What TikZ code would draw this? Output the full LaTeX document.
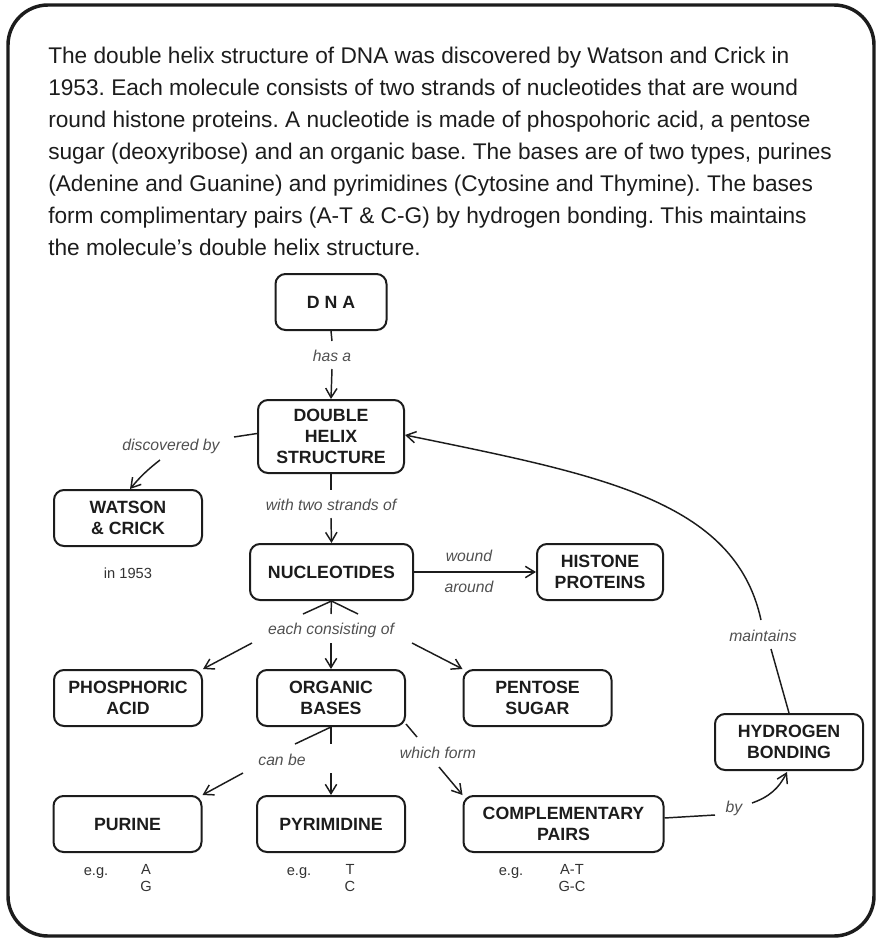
\documentclass[tikz,border=0pt]{standalone}
\usepackage{fontspec}
\setmainfont{Liberation Sans}
\usetikzlibrary{arrows.meta,calc}
\definecolor{ink}{HTML}{1C1C1C}
\definecolor{linkgray}{HTML}{505050}
\definecolor{notegray}{HTML}{333333}
\frenchspacing
\begin{document}
\begin{tikzpicture}[x=0.75pt,y=-0.75pt,
  concept/.style={draw=ink, line width=1.5pt, rounded corners=7.5pt, align=center,
    inner sep=0pt, text=ink, font=\bfseries\fontsize{13.3}{16}\selectfont,
    minimum width=111pt, minimum height=42pt},
  linkword/.style={font=\itshape\fontsize{11.8}{14}\selectfont, text=linkgray, inner sep=0pt},
  note/.style={font=\fontsize{11}{12.75}\selectfont, text=notegray, inner sep=0pt, align=center},
  conn/.style={draw=ink, line width=1.1pt},
  arr/.style={conn, -{Straight Barb[length=7pt,width=8.5pt,line width=1.1pt]}},
]
\useasboundingbox (0,0) rectangle (881,939);
% outer frame
\draw[ink, line width=2.6pt, rounded corners=30pt] (8,5) rectangle (874,936);

% introductory paragraph
\node[anchor=north west, inner sep=0pt, align=left, text=ink,
      font=\fontsize{17}{24}\selectfont] (intro) at (48,47)
 {The double helix structure of DNA was discovered by Watson and Crick in\\
  1953. Each molecule consists of two strands of nucleotides that are wound\\
  round histone proteins. A nucleotide is made of phospohoric acid, a pentose\\
  sugar (deoxyribose) and an organic base. The bases are of two types, purines\\
  (Adenine and Guanine) and pyrimidines (Cytosine and Thymine). The bases\\
  form complimentary pairs (A-T \& C-G) by hydrogen bonding. This maintains\\
  the molecule’s double helix structure.};

% concepts
\node[concept, minimum width=83.25pt] (dna) at (331,302) {D N A};
\node[concept, minimum width=109.5pt, minimum height=54.75pt] (dhs) at (331,436.5) {DOUBLE\\HELIX\\STRUCTURE};
\node[concept] (wc) at (128,518) {WATSON\\\& CRICK};
\node[concept, minimum width=122.25pt] (nuc) at (331.5,572) {NUCLEOTIDES};
\node[concept, minimum width=94.5pt] (hist) at (600,572) {HISTONE\\PROTEINS};
\node[concept] (phos) at (128,698) {PHOSPHORIC\\ACID};
\node[concept] (org) at (331,698) {ORGANIC\\BASES};
\node[concept] (pent) at (537.5,698) {PENTOSE\\SUGAR};
\node[concept] (hyd) at (789,742) {HYDROGEN\\BONDING};
\node[concept] (pur) at (127.5,824) {PURINE};
\node[concept] (pyr) at (331,824) {PYRIMIDINE};
\node[concept, minimum width=150pt] (comp) at (563.5,824) {COMPLEMENTARY\\PAIRS};

% notes under concepts
\node[note] (yr) at (128,573) {in 1953};
\node[note, anchor=base] (eg1) at (96,875) {e.g.};
\node[note, anchor=north] (ex1) at (146,864.5) {A\\G};
\node[note, anchor=base] (eg2) at (299,875) {e.g.};
\node[note, anchor=north] (ex2) at (350,864.5) {T\\C};
\node[note, anchor=base] (eg3) at (511,875) {e.g.};
\node[note, anchor=north] (ex3) at (572,864.5) {A-T\\G-C};

% linking phrases
\node[linkword] (hasa) at (332,356) {has a};
\node[linkword] (disc) at (171,446) {discovered by};
\node[linkword] (strands) at (331,505) {with two strands of};
\node[linkword] (wound) at (469,556) {wound};
\node[linkword] (around) at (469,587) {around};
\node[linkword] (each) at (331,630) {each consisting of};
\node[linkword] (canbe) at (282,760) {can be};
\node[linkword] (form) at (438,753) {which form};
\node[linkword] (by) at (734,808) {by};
\node[linkword] (maint) at (763,636) {maintains};

% connectors
\draw[conn] (dna.south) -- ($(hasa)+(0,-15)$);
\draw[arr] ($(hasa)+(0,13)$) -- (dhs.north);

\draw[conn] ($(dhs.west)+(0,-3)$) -- ($(disc)+(63,-9)$);
\draw[arr] ($(disc)+(-11,14)$) to[bend right=6] ($(wc.north)+(2,0)$);

\draw[conn] (dhs.south) -- ($(strands)+(0,-15)$);
\draw[arr] ($(strands)+(0,13)$) -- (nuc.north);

\draw[arr] (nuc.east) -- (hist.west);

\draw[conn] (nuc.south) -- ($(each)+(-28,-16)$);
\draw[conn] (nuc.south) -- ($(each)+(0,-16)$);
\draw[conn] (nuc.south) -- ($(each)+(27,-16)$);
\draw[arr] ($(each)+(-79,13)$) -- (phos.north east);
\draw[arr] ($(each)+(0,13)$) -- (org.north);
\draw[arr] ($(each)+(81,13)$) -- (pent.north west);

\draw[conn] (org.south) -- ($(canbe)+(13,-16)$);
\draw[conn] (org.south) -- ($(canbe)+(49,-16)$);
\draw[arr] ($(canbe)+(-39,13)$) -- (pur.north east);
\draw[arr] ($(canbe)+(49,13)$) -- (pyr.north);

\draw[conn] ($(org.south east)+(0,-3)$) -- ($(form)+(-21,-16)$);
\draw[arr] ($(form)+(1,14)$) -- (comp.north west);

\draw[conn] ($(comp.east)+(0,-6)$) -- ($(by)+(-19,7)$);
\draw[arr] ($(by)+(18,-5)$) to[bend right=22] ($(hyd.south)+(-2,1)$);

\draw[conn] (hyd.north) -- ($(maint)+(8,13)$);
\draw[arr] ($(maint)+(-2,-16)$) .. controls (735,500) and (600,475) .. ($(dhs.east)+(0,-1.5)$);
\end{tikzpicture}
\end{document}
